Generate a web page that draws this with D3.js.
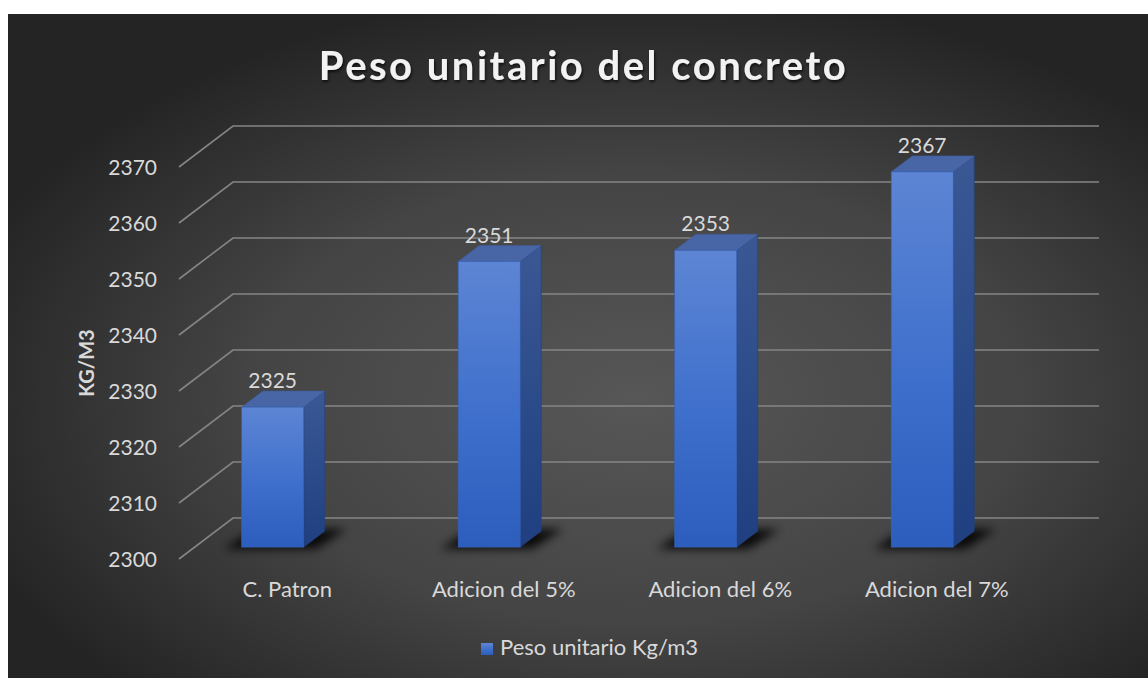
<!DOCTYPE html>
<html>
<head>
<meta charset="utf-8">
<script src="https://cdn.jsdelivr.net/npm/d3@7"></script>
<style>
  html, body { margin: 0; padding: 0; background: #ffffff; }
  svg { display: block; }
  text { font-family: Lato, "Open Sans", sans-serif; }
</style>
</head>
<body>
<svg id="chart" width="1148" height="678"></svg>
<script>
// Chart data
const categories = ["C. Patron", "Adicion del 5%", "Adicion del 6%", "Adicion del 7%"];
const values = [2325, 2351, 2353, 2367];
const yTicks = [2300, 2310, 2320, 2330, 2340, 2350, 2360, 2370];
const seriesName = "Peso unitario Kg/m3";
const titleText = "Peso unitario del concreto";
const yTitle = "KG/M3";

const svg = d3.select("#chart");
const defs = svg.append("defs");

// Panel background: soft radial light in the middle
const bg = defs.append("radialGradient").attr("id", "bgGrad")
  .attr("cx", "0.55").attr("cy", "0.58").attr("r", "0.62");
bg.append("stop").attr("offset", "0").attr("stop-color", "#575757");
bg.append("stop").attr("offset", "0.55").attr("stop-color", "#444444");
bg.append("stop").attr("offset", "1").attr("stop-color", "#242424");

const frontGrad = defs.append("linearGradient").attr("id", "frontGrad")
  .attr("x1", 0).attr("y1", 0).attr("x2", 0).attr("y2", 1);
frontGrad.append("stop").attr("offset", "0").attr("stop-color", "#5d85d4");
frontGrad.append("stop").attr("offset", "0.55").attr("stop-color", "#3e6fcc");
frontGrad.append("stop").attr("offset", "1").attr("stop-color", "#2d5dbd");

const sideGrad = defs.append("linearGradient").attr("id", "sideGrad")
  .attr("x1", 0).attr("y1", 0).attr("x2", 0).attr("y2", 1);
sideGrad.append("stop").attr("offset", "0").attr("stop-color", "#3a5894");
sideGrad.append("stop").attr("offset", "1").attr("stop-color", "#1f3f80");

const blur = defs.append("filter").attr("id", "shadowBlur")
  .attr("x", "-50%").attr("y", "-50%").attr("width", "200%").attr("height", "200%");
blur.append("feGaussianBlur").attr("stdDeviation", 5);

const titleShadow = defs.append("filter").attr("id", "titleShadow")
  .attr("x", "-10%").attr("y", "-30%").attr("width", "120%").attr("height", "160%");
titleShadow.append("feDropShadow").attr("dx", 1).attr("dy", 2)
  .attr("stdDeviation", 1.5).attr("flood-color", "#000").attr("flood-opacity", 0.7);

svg.append("rect").attr("x", 8).attr("y", 14).attr("width", 1140).attr("height", 664)
  .attr("fill", "url(#bgGrad)");

// 3D geometry: front floor edge, depth vector toward back wall
const frontLeft = 179, frontRight = 1045, frontBaseY = 559;
const depthX = 54, depthY = -41;
const barDepthStart = 0.29, barDepthEnd = 0.68;

const y = d3.scaleLinear().domain([2300, 2370]).range([0, 392]);
const x = d3.scaleBand().domain(categories).range([frontLeft, frontRight]);
const barW = 62;

// Gridlines: front end, diagonal to back wall, across back wall
const grid = svg.append("g");
yTicks.forEach(t => {
  const fy = frontBaseY - y(t);
  const by = fy + depthY;
  grid.append("path")
    .attr("d", `M${frontLeft},${fy} L${frontLeft + depthX},${by} L${frontRight + depthX},${by}`)
    .attr("fill", "none").attr("stroke", "#858585").attr("stroke-width", 1.6);
});

// Tick labels
svg.append("g").selectAll("text").data(yTicks).join("text")
  .attr("x", 157).attr("y", d => frontBaseY - y(d) + 8)
  .attr("text-anchor", "end").attr("font-size", 21).attr("fill", "#d9d9d9")
  .text(d => d);

// Bars
const bars = svg.append("g");
categories.forEach((c, i) => {
  const v = values[i];
  const fx0 = x(c) + x.bandwidth() / 2 - 45.5 + barDepthStart * depthX - 15.7;
  const baseY = frontBaseY + barDepthStart * depthY;
  const dX = (barDepthEnd - barDepthStart) * depthX;
  const dY = (barDepthEnd - barDepthStart) * depthY;
  const topY = baseY - y(v);
  const fx1 = fx0 + barW;

  // floor shadow
  bars.append("path")
    .attr("d", `M${fx0 - 18},${baseY + 2} L${fx1 + 12},${baseY + 2} L${fx1 + dX + 22},${baseY + dY - 2} L${fx0 + dX - 8},${baseY + dY - 2} Z`)
    .attr("fill", "#000").attr("opacity", 0.85).attr("filter", "url(#shadowBlur)");

  // side face
  bars.append("path")
    .attr("d", `M${fx1},${topY} L${fx1 + dX},${topY + dY} L${fx1 + dX},${baseY + dY} L${fx1},${baseY} Z`)
    .attr("fill", "url(#sideGrad)").attr("stroke", "#22407c").attr("stroke-width", 0.6);
  // top face
  bars.append("path")
    .attr("d", `M${fx0},${topY} L${fx1},${topY} L${fx1 + dX},${topY + dY} L${fx0 + dX},${topY + dY} Z`)
    .attr("fill", "#4865a6").attr("stroke", "#3f5c9c").attr("stroke-width", 0.6);
  // front face
  bars.append("rect")
    .attr("x", fx0).attr("y", topY).attr("width", barW).attr("height", y(v))
    .attr("fill", "url(#frontGrad)").attr("stroke", "#3563b8").attr("stroke-width", 0.6);

  // value label
  bars.append("text")
    .attr("x", fx0 + barW / 2).attr("y", topY + dY - 3)
    .attr("text-anchor", "middle").attr("font-size", 21).attr("fill", "#d9d9d9")
    .text(v);
});

// Category labels
svg.append("g").selectAll("text").data(categories).join("text")
  .attr("x", d => x(d) + x.bandwidth() / 2).attr("y", 597)
  .attr("text-anchor", "middle").attr("font-size", 22).attr("fill", "#d9d9d9")
  .text(d => d);

// Axis title
svg.append("text")
  .attr("transform", "translate(94,363) rotate(-90)")
  .attr("text-anchor", "middle").attr("font-size", 20).attr("font-weight", "bold")
  .attr("fill", "#d9d9d9").text(yTitle);

// Chart title
svg.append("text")
  .attr("x", 583.5).attr("y", 80)
  .attr("text-anchor", "middle").attr("font-size", 40).attr("font-weight", "bold")
  .attr("letter-spacing", 2.5)
  .attr("fill", "#f2f2f2").attr("filter", "url(#titleShadow)")
  .text(titleText);

// Legend
const legend = svg.append("g");
legend.append("rect").attr("x", 481).attr("y", 643).attr("width", 12).attr("height", 12)
  .attr("fill", "url(#frontGrad)");
legend.append("text").attr("x", 500).attr("y", 655)
  .attr("font-size", 22).attr("fill", "#d9d9d9").text(seriesName);
</script>
</body>
</html>
